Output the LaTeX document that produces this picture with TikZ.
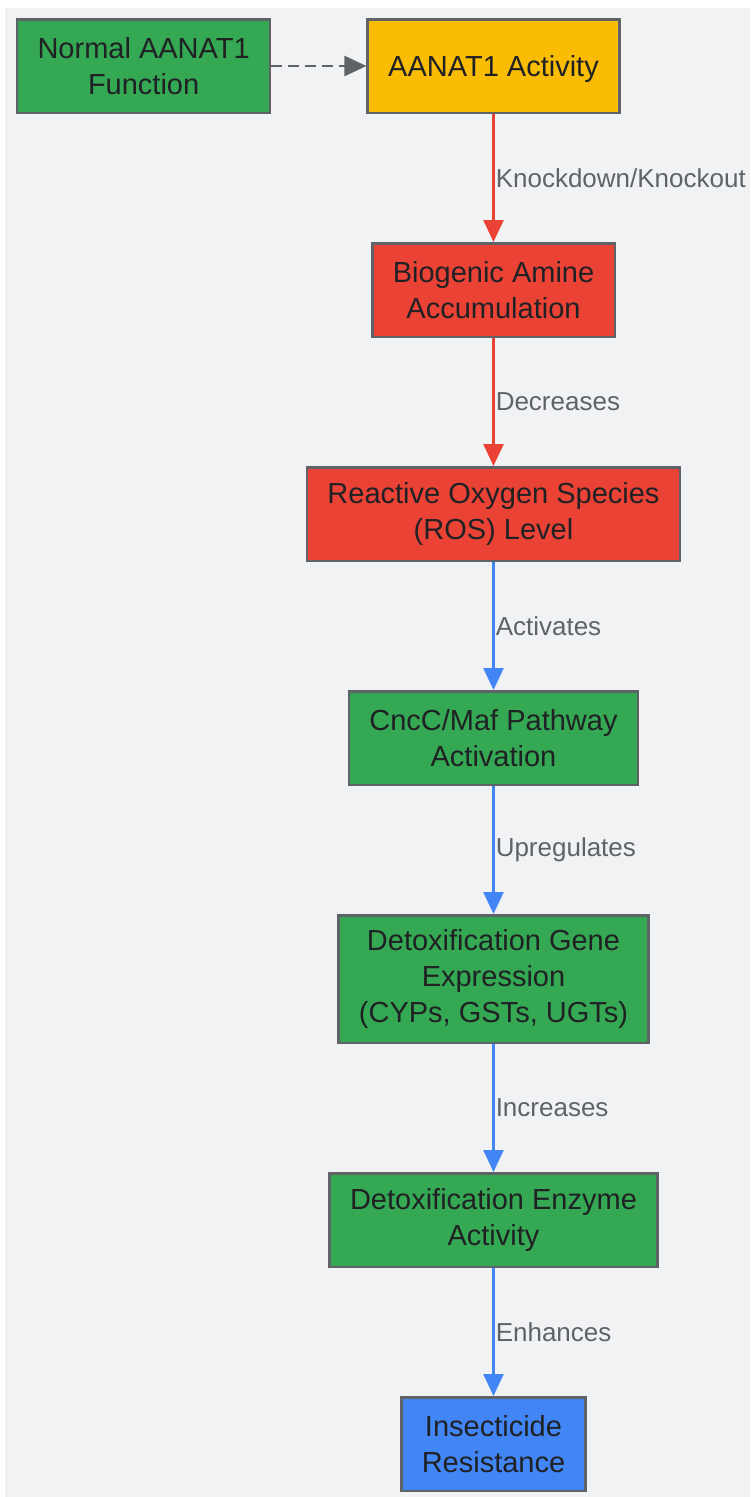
\documentclass[tikz,border=0pt]{standalone}
\usepackage{fontspec}
\setmainfont{Liberation Sans}
\usepackage{xcolor}
\usetikzlibrary{positioning}
\usetikzlibrary{arrows.meta}
\definecolor{canvas}{HTML}{F1F2F4}
\definecolor{edgegrey}{HTML}{5F6368}
\definecolor{inkdark}{HTML}{202124}
\definecolor{ggreen}{HTML}{34A853}
\definecolor{gred}{HTML}{EA4335}
\definecolor{gyellow}{HTML}{FBBC04}
\definecolor{gblue}{HTML}{4285F4}
\tikzset {
  node distance={128pt},
  % boxed step of the flow
  main/.style = {draw=edgegrey, line width=2.5pt, align=center, text=inkdark,
    font=\fontsize{29}{36}\selectfont, inner xsep=20.5pt, inner ysep=12pt,
    minimum height=93.5pt},
  % box colours
  good/.style={main, fill=ggreen},
  bad/.style={main, fill=gred},
  warn/.style={main, fill=gyellow},
  goal/.style={main, fill=gblue},
  % edges of the flow
  hurt/.style={gred, line width=2.5pt, -{Triangle[length=22pt, width=20pt]}},
  help/.style={gblue, line width=2.5pt, -{Triangle[length=22pt, width=20pt]}},
  base/.style={edgegrey, line width=2.5pt, dash pattern=on 11pt off 6pt,
    -{Triangle[length=22pt, width=20pt]}},
  mid/.style={midway, right, inner xsep=1pt, text=edgegrey,
    font=\fontsize{26}{32}\selectfont},
}

\begin{document}
\begin{tikzpicture}[x=1pt, y=1pt]
  \useasboundingbox (0,0) rectangle (750,-1497);
  \fill[white] (0,0) rectangle (750,-1497);
  \fill[canvas] (5,-8) rectangle (750,-1497);

  \node[warn, text depth=0pt] (act) at (493.5,-66) {AANAT1 Activity};
  \node[good] (norm) [left=95pt of act] {Normal AANAT1\\Function};
  \node[bad] (amine) [below=of act] {Biogenic Amine\\Accumulation};
  \node[bad] (ros) [below=of amine] {Reactive Oxygen Species\\(ROS) Level};
  \node[good] (cnc) [below=of ros] {CncC/Maf Pathway\\Activation};
  \node[good, minimum height=127.5pt] (gene) [below=of cnc]
    {Detoxification Gene\\Expression\\(CYPs, GSTs, UGTs)};
  \node[good] (enz) [below=of gene] {Detoxification Enzyme\\Activity};
  \node[goal] (res) [below=of enz] {Insecticide\\Resistance};

  \draw [base] (norm) -- (act);
  \draw [hurt] (act) -- node[mid] {Knockdown/Knockout} (amine);
  \draw [hurt] (amine) -- node[mid] {Decreases} (ros);
  \draw [help] (ros) -- node[mid] {Activates} (cnc);
  \draw [help] (cnc) -- node[mid] {Upregulates} (gene);
  \draw [help] (gene) -- node[mid] {Increases} (enz);
  \draw [help] (enz) -- node[mid] {Enhances} (res);
\end{tikzpicture}
\end{document}
